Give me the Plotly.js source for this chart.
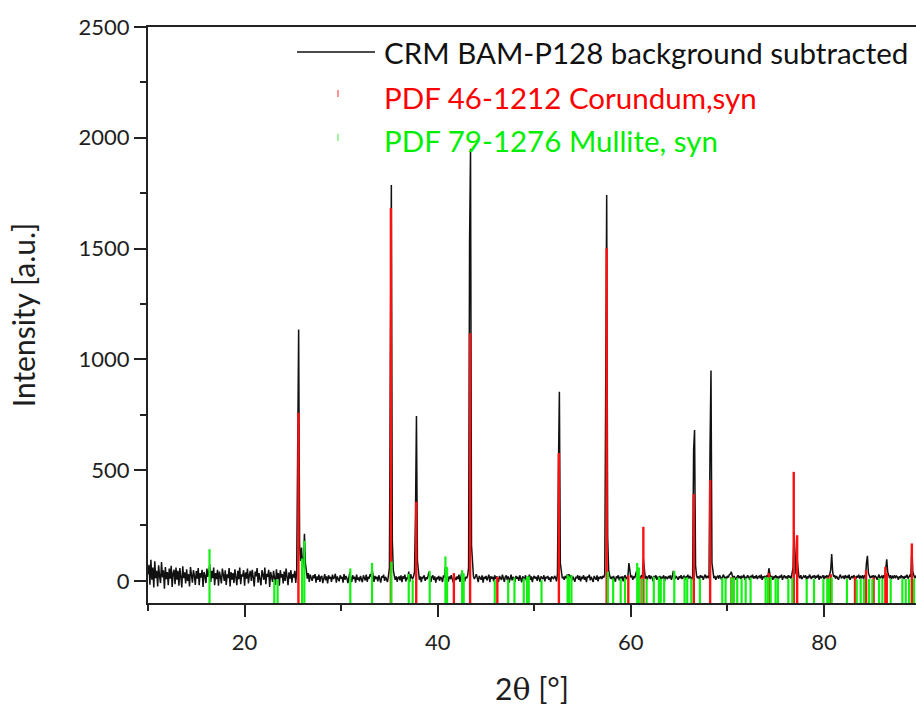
<!DOCTYPE html>
<html>
<head>
<meta charset="utf-8">
<script src="https://cdn.plot.ly/plotly-3.0.1.min.js"></script>
<style>html,body{margin:0;padding:0;background:#fff;}#chart{width:916px;height:707px;}</style>
</head>
<body>
<div id="chart"></div>
<script>
// ---- measured pattern: CRM BAM-P128, background subtracted (scan 10.0 .. 90.0 deg, step 0.1) ----
const scanStart = 10.0;
const scanStep = 0.1;
const counts = [
  30,72,-18,95,5,60,-30,88,12,45,
  -25,70,20,-10,85,15,48,-35,62,8,
  40,-20,55,10,68,-28,35,50,-15,60,
  5,45,-22,58,18,-30,66,12,38,-12,
  52,0,30,-25,62,20,-8,48,25,-18,
  44,10,58,-20,35,15,50,-28,40,22,
  -10,55,18,40,75,-5,45,12,60,-20,
  35,8,50,-22,42,18,-12,55,25,0,
  48,-18,30,12,58,-25,40,5,35,-10,
  52,15,-20,45,8,60,-15,30,20,48,
  -22,38,10,55,-12,28,45,0,50,15,
  -25,42,20,58,-8,35,10,-20,48,25,
  5,60,-15,32,18,50,-28,40,12,-5,
  45,20,-18,52,8,35,-22,48,15,30,
  -12,42,0,55,25,-20,38,10,48,-8,
  30,15,45,-10,45,620,1135,160,90,150,
  60,90,212,80,40,10,35,-5,28,15,
  0,25,12,30,-8,20,5,28,-5,18,
  22,-10,15,30,2,20,-12,25,10,18,
  -5,28,8,15,32,-8,20,12,-2,25,
  10,18,-8,30,5,22,12,-10,20,38,
  12,-5,25,8,18,-8,28,5,15,-2,
  22,10,-6,25,15,2,28,-4,18,10,
  30,20,55,12,-5,22,8,18,-2,25,
  10,-8,20,15,28,0,18,8,-5,22,
  60,1000,1787,180,50,25,5,20,-4,15,
  18,2,25,-6,20,10,28,-2,15,8,
  42,-5,30,15,10,20,40,300,744,90,
  30,5,20,-6,18,12,25,0,15,8,
  22,40,10,-4,18,25,5,20,-8,15,
  10,22,0,18,12,-5,25,15,65,40,
  18,-4,20,8,25,10,-6,22,12,3,
  20,8,28,-5,15,42,30,10,-2,18,
  12,25,60,1530,1950,160,45,20,8,25,
  30,12,-5,22,15,5,25,-8,18,10,
  22,2,15,28,-6,20,10,18,-2,25,
  8,20,12,-5,22,15,4,28,10,-4,
  18,25,5,20,-8,15,28,2,18,12,
  -5,22,10,18,0,25,12,-6,20,15,
  8,25,-2,18,12,28,5,20,-6,15,
  22,10,18,0,25,12,-4,20,15,8,
  25,-2,18,12,22,5,15,-5,20,12,
  8,22,15,-2,30,500,854,80,30,12,
  18,5,22,12,28,20,30,15,25,2,
  20,10,-4,18,12,25,5,22,-2,15,
  12,25,5,18,-6,20,15,28,2,18,
  10,-5,22,15,5,25,-2,18,12,20,
  8,22,15,30,900,1742,200,50,25,10,
  18,5,22,12,-4,20,15,25,2,18,
  10,20,-2,18,25,8,15,22,80,30,
  15,25,5,20,12,30,45,22,8,18,
  12,25,20,98,35,10,22,5,18,25,
  8,20,15,-2,22,12,25,5,18,10,
  22,5,18,12,25,-2,20,15,8,22,
  12,25,5,20,45,30,10,22,15,5,
  20,12,25,8,18,22,5,20,15,28,
  10,22,15,5,20,590,681,70,25,12,
  20,8,25,15,22,5,18,28,12,20,
  15,25,600,949,80,30,12,22,5,18,
  22,10,25,15,5,20,28,12,18,8,
  22,15,28,30,41,25,10,22,15,5,
  18,25,12,22,8,20,15,28,5,18,
  12,25,18,5,22,15,28,10,20,12,
  25,8,18,22,12,28,5,20,15,22,
  10,25,18,57,30,12,22,5,20,15,
  25,12,20,8,22,15,28,5,18,25,
  12,20,8,25,15,22,10,28,60,221,
  80,30,110,50,20,12,25,8,18,22,
  15,25,5,20,12,28,18,8,22,15,
  25,10,20,15,28,5,22,12,18,25,
  8,20,15,25,12,22,30,50,121,40,
  18,25,10,22,15,5,20,28,12,18,
  22,8,25,15,20,12,28,5,18,22,
  12,25,18,8,22,15,28,10,20,15,
  25,8,22,18,80,113,35,20,12,22,
  15,25,10,22,18,5,20,28,12,18,
  22,10,25,15,70,97,40,20,12,25,
  8,20,15,25,12,22,18,5,20,15,
  25,12,20,8,22,15,28,10,20,25,
  18,160,40,22,12,20,15,25,8,20,
  15
];

// ---- reference pattern PDF 46-1212 Corundum, syn ----
const corundumPos = [25.578,35.152,37.776,41.675,43.355,46.175,52.549,57.496,59.739,61.117,61.298,66.519,68.212,70.418,74.297,76.869,77.224,80.419,80.698,83.215,84.356,85.140,86.360,86.501,89.10];
const corundumInt = [759,1683,357,35,1118,18,577,1501,25,18,244,392,455,17,35,492,206,17,30,18,48,15,63,35,169];

// ---- reference pattern PDF 79-1276 Mullite, syn ----
const mullitePos = [16.37,23.08,23.42,25.95,26.19,30.95,33.20,35.20,37.00,37.41,39.17,40.80,40.97,42.53,42.69,45.91,47.30,47.95,48.91,49.26,49.43,50.75,53.45,53.60,53.85,57.62,58.17,58.95,59.40,60.66,60.83,61.18,61.63,62.38,62.90,63.10,63.45,64.50,65.57,65.84,66.26,67.15,69.47,69.81,70.43,70.67,71.02,71.47,71.89,72.40,73.96,74.20,74.48,74.99,75.23,76.31,76.72,78.21,78.97,79.94,80.35,80.52,80.80,82.38,83.39,83.80,84.15,84.66,85.01,85.70,86.05,86.91,88.12,88.47,88.81,89.33];
const mulliteInt = [143,6,6,101,181,56,81,86,31,6,45,110,62,48,33,3,6,15,11,18,20,3,26,20,26,41,11,11,11,81,60,10,10,18,18,10,10,45,15,15,10,10,12,12,15,15,12,10,12,15,18,15,18,10,10,10,12,8,8,8,10,10,15,8,6,8,8,8,8,10,10,8,8,8,8,10];

const seriesNames = ['CRM BAM-P128 background subtracted','PDF 46-1212 Corundum,syn','PDF 79-1276 Mullite, syn'];
const xTickVals = [20,40,60,80];
const yTickVals = [0,500,1000,1500,2000,2500];

const xRange = [10, 89.53];
const yRange = [-100, 2500];

const twoTheta = counts.map((_, i) => +(scanStart + i * scanStep).toFixed(2));

function sticks(pos, inten, base) {
  const x = [], y = [];
  pos.forEach((p, i) => { x.push(p, p, null); y.push(base, inten[i], null); });
  return {x, y};
}
const cor = sticks(corundumPos, corundumInt, yRange[0]);
const mul = sticks(mullitePos, mulliteInt, yRange[0]);

const traces = [
  {x: twoTheta, y: counts, type: 'scatter', mode: 'lines', name: seriesNames[0],
   line: {color: '#111111', width: 1.5}, showlegend: false},
  {x: cor.x, y: cor.y, type: 'scatter', mode: 'lines', name: seriesNames[1],
   line: {color: '#ff1010', width: 2.4}, connectgaps: false, showlegend: false},
  {x: mul.x, y: mul.y, type: 'scatter', mode: 'lines', name: seriesNames[2],
   line: {color: '#14f014', width: 2.2}, connectgaps: false, showlegend: false}
];

const L = 148, R = 0, T = 27, B = 104;
const W = 916, H = 707;
const pw = W - L - R, ph = H - T - B;
const px = v => (v - L) / pw;
const py = v => (H - B - v) / ph;

const FONT = 'Lato, "Open Sans", sans-serif';
const txt = '#1e1e1e';

const layout = {
  width: W, height: H,
  margin: {l: L, r: R, t: T, b: B, pad: 0},
  paper_bgcolor: '#ffffff', plot_bgcolor: '#ffffff',
  showlegend: false,
  font: {family: FONT, size: 22, color: txt},
  xaxis: {
    range: xRange, tickvals: xTickVals, ticktext: xTickVals.map(String),
    ticks: 'outside', ticklen: 12, tickwidth: 2, tickcolor: '#222',
    ticklabelstandoff: 7,
    showline: true, linecolor: '#222', linewidth: 2, mirror: true,
    showgrid: false, zeroline: false,
    tickfont: {family: FONT, size: 22, color: txt},
    minor: {dtick: 10, tick0: 0, ticks: 'outside', ticklen: 6, tickwidth: 2, tickcolor: '#222', showgrid: false},
    title: {text: '2<span style="font-family:DejaVu Serif">θ</span> [°]', font: {family: FONT, size: 30, color: txt}, standoff: 26}
  },
  yaxis: {
    range: yRange, tickvals: yTickVals, ticktext: yTickVals.map(String),
    ticks: 'outside', ticklen: 12, tickwidth: 2, tickcolor: '#222',
    showline: true, linecolor: '#222', linewidth: 2, mirror: false,
    showgrid: false, zeroline: false,
    tickfont: {family: FONT, size: 22, color: txt},
    minor: {dtick: 250, tick0: 0, ticks: 'outside', ticklen: 6, tickwidth: 2, tickcolor: '#222', showgrid: false},
    title: {text: 'Intensity [a.u.]', font: {family: FONT, size: 30, color: txt}, standoff: 34}
  },
  shapes: [
    {type: 'line', xref: 'paper', yref: 'paper', x0: px(297), x1: px(375), y0: py(52), y1: py(52), line: {color: '#111', width: 1.5}},
    {type: 'line', xref: 'paper', yref: 'paper', x0: px(338), x1: px(338), y0: py(90), y1: py(97), line: {color: '#ff7070', width: 1.5}},
    {type: 'line', xref: 'paper', yref: 'paper', x0: px(338), x1: px(338), y0: py(134), y1: py(141), line: {color: '#80f080', width: 1.5}}
  ],
  annotations: [
    {xref: 'paper', yref: 'paper', x: px(382), y: py(52), xanchor: 'left', yanchor: 'middle', showarrow: false,
     text: seriesNames[0], font: {family: FONT, size: 29.5, color: '#111'}},
    {xref: 'paper', yref: 'paper', x: px(382), y: py(97), xanchor: 'left', yanchor: 'middle', showarrow: false,
     text: seriesNames[1], font: {family: FONT, size: 29.5, color: '#ff0000'}},
    {xref: 'paper', yref: 'paper', x: px(382), y: py(140), xanchor: 'left', yanchor: 'middle', showarrow: false,
     text: seriesNames[2], font: {family: FONT, size: 29.5, color: '#00ee00'}}
  ]
};

Plotly.newPlot('chart', traces, layout, {displayModeBar: false, staticPlot: true});
</script>
</body>
</html>
